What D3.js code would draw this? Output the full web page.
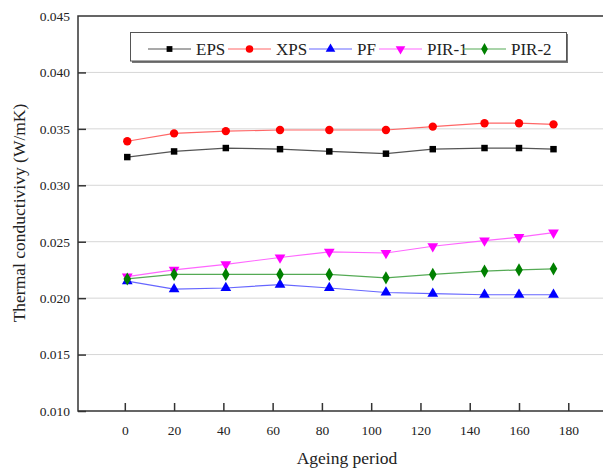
<!DOCTYPE html>
<html lang="en">
<head>
	<meta charset="utf-8">
	<script src="https://d3js.org/d3.v7.min.js"></script>
	<style>
		body { margin: 0; background: #fff; }
		text { font-family: "Liberation Serif", "DejaVu Serif", serif; fill: #222; }
	</style>
</head>
<body>
	<svg width="603" height="468"></svg>
	<script type="text/javascript">

		// data
		var days = [1, 20, 41, 63, 83, 106, 125, 146, 160, 174];
		var eps  = [0.0325, 0.0330, 0.0333, 0.0332, 0.0330, 0.0328, 0.0332, 0.0333, 0.0333, 0.0332];
		var xps  = [0.0339, 0.0346, 0.0348, 0.0349, 0.0349, 0.0349, 0.0352, 0.0355, 0.0355, 0.0354];
		var pf   = [0.0215, 0.0208, 0.0209, 0.0212, 0.0209, 0.0205, 0.0204, 0.0203, 0.0203, 0.0203];
		var pir1 = [0.0219, 0.0225, 0.0230, 0.0236, 0.0241, 0.0240, 0.0246, 0.0251, 0.0254, 0.0258];
		var pir2 = [0.0217, 0.0221, 0.0221, 0.0221, 0.0221, 0.0218, 0.0221, 0.0224, 0.0225, 0.0226];

		var xTicks = [0, 20, 40, 60, 80, 100, 120, 140, 160, 180];
		var yTicks = [0.010, 0.015, 0.020, 0.025, 0.030, 0.035, 0.040, 0.045];

		var series = [
			{name: "EPS",   values: eps,  color: "#000000", line: "#555555", sym: d3.symbolSquare,   size: 42},
			{name: "XPS",   values: xps,  color: "#ff0000", line: "#ff6666", sym: d3.symbolCircle,   size: 55},
			{name: "PF",    values: pf,   color: "#0000ff", line: "#6666ff", sym: d3.symbolTriangle, size: 50},
			{name: "PIR-1", values: pir1, color: "#ff00ff", line: "#ff66ff", sym: d3.symbolTriangle, size: 50, flip: true},
			{name: "PIR-2", values: pir2, color: "#008000", line: "#55aa55", sym: d3.symbolDiamond,  size: 50}
		];

		var svg = d3.select("svg");
		var box = {left: 78, right: 604, top: 16, bottom: 411};

		var x = d3.scaleLinear().domain([-19, 194.5]).range([box.left, box.right]);
		var y = d3.scaleLinear().domain([0.010, 0.045]).range([box.bottom, box.top]);

		// grid lines
		svg.append("g").selectAll("line")
			.data(yTicks.slice(1, -1))
			.enter().append("line")
			.attr("x1", box.left).attr("x2", box.right)
			.attr("y1", function(d) { return y(d); })
			.attr("y2", function(d) { return y(d); })
			.attr("stroke", "#d6d6d6").attr("stroke-width", 1);

		// frame
		svg.append("path")
			.attr("d", "M" + box.right + "," + box.top + "H" + box.left + "V" + box.bottom + "H" + box.right)
			.attr("fill", "none").attr("stroke", "#333").attr("stroke-width", 1.5);

		// axes, ticks pointing inward
		var xAxis = svg.append("g")
			.attr("transform", "translate(0," + box.bottom + ")")
			.call(d3.axisBottom(x).tickValues(xTicks).tickSizeInner(-8).tickSizeOuter(0).tickPadding(14));
		var yAxis = svg.append("g")
			.attr("transform", "translate(" + box.left + ",0)")
			.call(d3.axisLeft(y).tickValues(yTicks).tickFormat(d3.format(".3f")).tickSizeInner(-8).tickSizeOuter(0).tickPadding(8));

		[xAxis, yAxis].forEach(function(a) {
			a.attr("font-size", null).attr("font-family", null);
			a.select(".domain").remove();
			a.selectAll(".tick line").attr("stroke", "#333").attr("stroke-width", 1.5);
			a.selectAll(".tick text")
				.style("font-size", "13.5px")
				.style("font-family", "'Liberation Serif', 'DejaVu Serif', serif")
				.attr("fill", "#222");
		});
		yAxis.selectAll(".tick").filter(function(d) { return d === 0.045; }).select("line").remove();

		// axis titles
		svg.append("text")
			.attr("x", 347).attr("y", 464)
			.attr("text-anchor", "middle")
			.style("font-size", "17.5px")
			.text("Ageing period");

		svg.append("text")
			.attr("transform", "translate(25,213) rotate(-90)")
			.attr("text-anchor", "middle")
			.style("font-size", "17.5px")
			.text("Thermal conductivivy (W/mK)");

		// series
		var line = d3.line()
			.x(function(d, i) { return x(days[i]); })
			.y(function(d) { return y(d); });

		series.forEach(function(s) {
			svg.append("path")
				.attr("d", line(s.values))
				.attr("fill", "none")
				.attr("stroke", s.line)
				.attr("stroke-width", 1.2);

			svg.append("g").selectAll("path")
				.data(s.values)
				.enter().append("path")
				.attr("d", d3.symbol().type(s.sym).size(s.size))
				.attr("transform", function(d, i) {
					return "translate(" + x(days[i]) + "," + y(d) + ")" + (s.flip ? " rotate(180)" : "");
				})
				.attr("fill", s.color);
		});

		// legend
		var lg = svg.append("g");
		lg.append("rect")
			.attr("x", 132).attr("y", 34).attr("width", 436).attr("height", 29)
			.attr("fill", "#777");
		lg.append("rect")
			.attr("x", 130.5).attr("y", 32.5).attr("width", 436).attr("height", 28.5)
			.attr("fill", "#fff").attr("stroke", "#555").attr("stroke-width", 1);

		var lx = [148, 228, 309, 379, 463];
		series.forEach(function(s, i) {
			var g = lg.append("g").attr("transform", "translate(" + lx[i] + ",49)");
			g.append("line").attr("x1", 0).attr("x2", 43)
				.attr("stroke", s.line).attr("stroke-width", 1.2);
			g.append("path")
				.attr("d", d3.symbol().type(s.sym).size(s.size * 0.8))
				.attr("transform", "translate(21.5,0)" + (s.flip ? " rotate(180)" : ""))
				.attr("fill", s.color);
			g.append("text")
				.attr("x", 48).attr("y", 5.5)
				.style("font-size", "17px")
				.text(s.name);
		});
	</script>
</body>
</html>
